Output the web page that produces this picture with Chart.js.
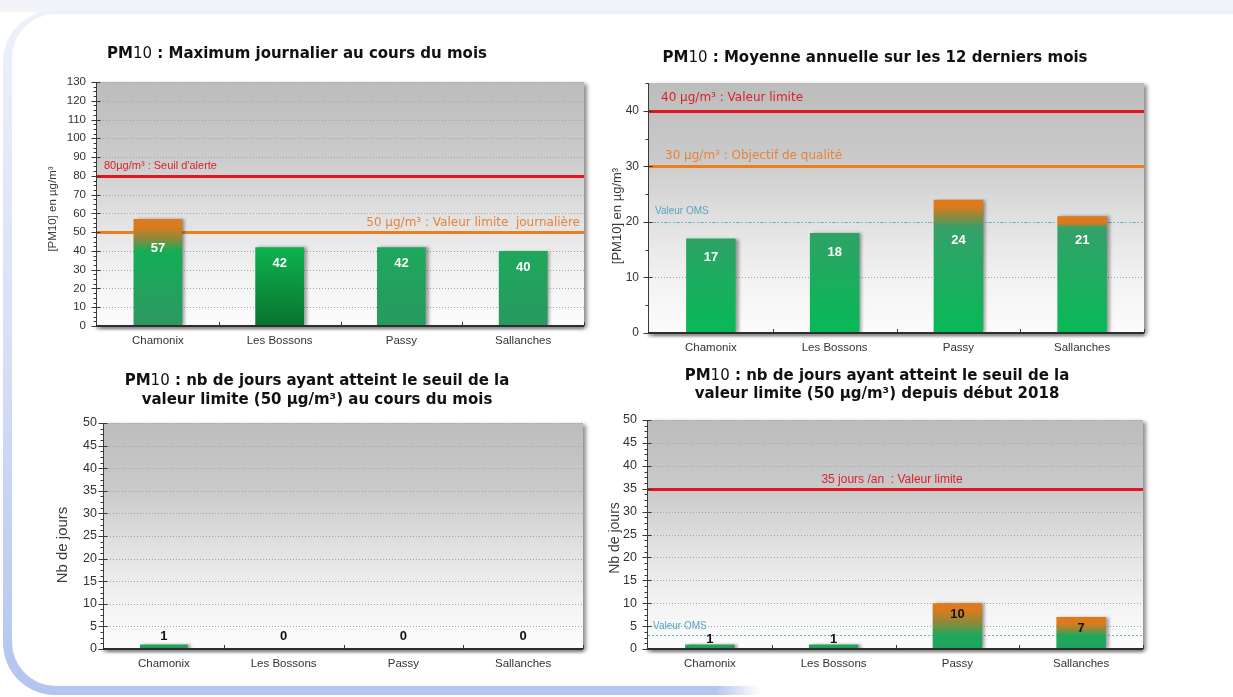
<!DOCTYPE html>
<html lang="fr">
<head>
<meta charset="utf-8">
<title>PM10 – Vallée de l'Arve</title>
<script src="https://cdn.jsdelivr.net/npm/chart.js@4.4.1/dist/chart.umd.min.js"></script>
<style>
  html, body { margin: 0; padding: 0; background: #fff; }
  #page { position: relative; width: 1233px; height: 697px; overflow: hidden; }
  #frame { position: absolute; left: 0; top: 0; }
  .box { position: absolute; }
</style>
</head>
<body>
<div id="page">
  <canvas id="frame" width="1233" height="697"></canvas>
  <div class="box" id="b1"><canvas id="c1"></canvas></div>
  <div class="box" id="b2"><canvas id="c2"></canvas></div>
  <div class="box" id="b3"><canvas id="c3"></canvas></div>
  <div class="box" id="b4"><canvas id="c4"></canvas></div>
</div>
<script>
// ---- Données ----
const stations = ['Chamonix', 'Les Bossons', 'Passy', 'Sallanches'];
const maxJournalier = [57, 42, 42, 40];          // µg/m³
const moyenneAnnuelle = [17, 18, 24, 21];        // µg/m³
const joursDepassementMois = [1, 0, 0, 0];       // jours
const joursDepassementAnnee = [1, 1, 10, 7];     // jours
const seuilAlerte = 80;
const valeurLimiteJournaliere = 50;
const valeurLimiteAnnuelle = 40;
const objectifQualite = 30;
const valeurOMSAnnuelle = 20;
const joursLimiteAnnee = 35;
const joursOMSAnnee = 3;
const axeMax = [130, 45, 50, 50];
const axePasMajeur = [10, 10, 5, 5];
const axePasMineur = [2.5, 5, 1.25, 1.25];

// ---- Styles ----
const SANS = "'Liberation Sans', Arial, sans-serif";
const NARROW = "'Liberation Sans Narrow', 'Liberation Sans', Arial, sans-serif";
const VERD = "'DejaVu Sans', Verdana, sans-serif";
const ORANGE = '#dc7a1d';
const OLIVE = '#8c8a3a';
const RED_LINE = '#e3161e';
const ORANGE_LINE = '#f07d1c';
const OMS_LINE = '#74b6cf';
const RED_TXT = '#d8232b';
const ORANGE_TXT = '#e8823a';
const OMS_TXT = '#58a6c2';

function drawFrame() {
  const g = document.getElementById('frame').getContext('2d');
  g.fillStyle = '#fff';
  g.fillRect(0, 0, 1233, 697);
  g.fillStyle = '#f3f4f9';
  g.fillRect(0, 0, 1233, 12);
  const rr = (x, y, w, h, r) => {
    g.beginPath();
    g.moveTo(x + r, y);
    g.lineTo(x + w, y);
    g.lineTo(x + w, y + h);
    g.lineTo(x + r, y + h);
    g.arcTo(x, y + h, x, y + h - r, r);
    g.lineTo(x, y + r);
    g.arcTo(x, y, x + r, y, r);
    g.closePath();
  };
  const edge = g.createLinearGradient(0, 10, 0, 697);
  edge.addColorStop(0, '#eef1fa');
  edge.addColorStop(0.5, '#d6dff5');
  edge.addColorStop(1, '#b3c4ee');
  rr(3, 10, 1400, 685, 52);
  g.fillStyle = edge;
  g.fill();
  rr(12, 14, 1400, 672, 44);
  g.fillStyle = '#fff';
  g.fill();
  const fade = g.createLinearGradient(715, 0, 760, 0);
  fade.addColorStop(0, 'rgba(255,255,255,0)');
  fade.addColorStop(1, '#fff');
  g.fillStyle = fade;
  g.fillRect(715, 684, 518, 13);
}

function barFill(c, spec) {
  const chart = c.chart;
  const tone = spec.tones[c.dataIndex] || spec.tones[0];
  if (!chart.chartArea || !chart.scales.y) return tone.top;
  const y = chart.scales.y;
  const v = spec.values[c.dataIndex];
  const yTop = y.getPixelForValue(v), yBot = y.getPixelForValue(0);
  if (yBot - yTop < 2) return tone.top;
  const g = chart.ctx.createLinearGradient(0, yTop, 0, yBot);
  const f = val => Math.min(1, Math.max(0, (y.getPixelForValue(val) - yTop) / (yBot - yTop)));
  if (spec.warn !== undefined && v > spec.warn) {
    const hold = v - spec.hold;
    const end = Math.min(spec.fadeEnd, hold);
    g.addColorStop(0, ORANGE);
    g.addColorStop(f(hold), ORANGE);
    g.addColorStop(f((hold + end) / 2), OLIVE);
    g.addColorStop(f(end), tone.top);
    g.addColorStop(1, tone.bottom);
  } else {
    g.addColorStop(0, tone.top);
    g.addColorStop(1, tone.bottom);
  }
  return g;
}

function pmPlugin(spec) {
  const ox = spec.box.x, oy = spec.box.y;
  const line = (ctx, x1, y1, x2, y2) => {
    ctx.beginPath(); ctx.moveTo(x1, y1); ctx.lineTo(x2, y2); ctx.stroke();
  };
  return {
    id: 'pm' + spec.id,
    beforeDraw(chart) {
      const ctx = chart.ctx, a = chart.chartArea;
      ctx.save();
      ctx.shadowColor = 'rgba(0,0,0,0.45)';
      ctx.shadowBlur = 4;
      ctx.shadowOffsetX = 3;
      ctx.shadowOffsetY = 2;
      ctx.fillStyle = '#cfcfcf';
      ctx.fillRect(a.left, a.top, a.width, a.height);
      ctx.restore();
      const bg = ctx.createLinearGradient(0, a.top, 0, a.bottom);
      bg.addColorStop(0, '#bcbcbc');
      bg.addColorStop(0.3, '#cacaca');
      bg.addColorStop(0.55, '#e1e1e1');
      bg.addColorStop(0.8, '#f3f3f3');
      bg.addColorStop(1, '#fcfcfc');
      ctx.fillStyle = bg;
      ctx.fillRect(a.left, a.top, a.width, a.height);

      // titre
      ctx.save();
      ctx.fillStyle = '#111';
      ctx.textBaseline = 'middle';
      ctx.textAlign = 'left';
      spec.title.forEach((segs, i) => {
        let w = 0;
        segs.forEach(s => { ctx.font = s.f; w += ctx.measureText(s.t).width; });
        let x = spec.titleX - ox - w / 2;
        segs.forEach(s => { ctx.font = s.f; ctx.fillText(s.t, x, spec.titleY[i] - oy); x += ctx.measureText(s.t).width; });
      });
      // titre de l'axe vertical
      ctx.translate(spec.yTitle.x - ox, spec.yTitle.y - oy);
      ctx.rotate(-Math.PI / 2);
      ctx.textAlign = 'center';
      ctx.fillStyle = '#3c3c3c';
      ctx.font = spec.yTitle.size + 'px ' + SANS;
      ctx.fillText(spec.yTitle.text, 0, 0);
      ctx.restore();
    },
    beforeDatasetsDraw(chart) {
      const ctx = chart.ctx, a = chart.chartArea, ys = chart.scales.y;
      // quadrillage pointillé
      ctx.save();
      ctx.strokeStyle = '#a2a2a2';
      ctx.lineWidth = 1;
      ctx.setLineDash([1, 2]);
      const nMaj = Math.floor(spec.max / spec.major + 1e-9);
      for (let k = 1; k <= nMaj; k++) {
        const y = Math.round(ys.getPixelForValue(k * spec.major)) + 0.5;
        line(ctx, a.left, y, a.right, y);
      }
      ctx.restore();
      // lignes de référence
      spec.refs.forEach(r => {
        const y = ys.getPixelForValue(r.v);
        ctx.save();
        ctx.strokeStyle = r.color;
        ctx.lineWidth = r.width;
        if (r.dash) ctx.setLineDash(r.dash);
        const yy = r.width % 2 ? Math.round(y) + 0.5 : Math.round(y);
        line(ctx, a.left, yy, a.right, yy);
        ctx.setLineDash([]);
        ctx.fillStyle = r.textColor;
        ctx.font = r.font;
        ctx.textAlign = r.align;
        ctx.textBaseline = 'middle';
        ctx.fillText(r.text, r.x - ox, y + r.dy);
        ctx.restore();
      });
      // ombre des barres
      ctx.save();
      ctx.shadowColor = 'rgba(0,0,0,0.35)';
      ctx.shadowBlur = 3;
      ctx.shadowOffsetX = 3;
      ctx.shadowOffsetY = 0;
    },
    afterDatasetsDraw(chart) {
      const ctx = chart.ctx, a = chart.chartArea, ys = chart.scales.y, xs = chart.scales.x;
      ctx.restore();
      // axe vertical et graduations
      ctx.save();
      ctx.strokeStyle = '#3a3a3a';
      ctx.lineWidth = 1;
      const ax = Math.round(a.left) - 0.5;
      line(ctx, ax, a.top, ax, a.bottom);
      const nMin = Math.floor(spec.max / spec.minor + 1e-9);
      for (let k = 0; k <= nMin; k++) {
        const v = k * spec.minor;
        const y = Math.round(ys.getPixelForValue(v)) + 0.5;
        const major = Math.abs(v / spec.major - Math.round(v / spec.major)) < 1e-6;
        if (major) line(ctx, ax - 5, y, ax + 4, y);
        else line(ctx, ax - 3, y, ax, y);
      }
      // axe horizontal ombré
      ctx.save();
      ctx.shadowColor = 'rgba(0,0,0,0.45)';
      ctx.shadowBlur = 3;
      ctx.shadowOffsetY = 2;
      ctx.lineWidth = 2;
      ctx.strokeStyle = '#2e2e2e';
      line(ctx, a.left - 1, Math.round(a.bottom), a.right, Math.round(a.bottom));
      ctx.restore();
      for (let i = 1; i <= stations.length; i++) {
        const xb = i < stations.length
          ? (xs.getPixelForValue(i - 1) + xs.getPixelForValue(i)) / 2
          : a.right - 0.5;
        const xx = Math.round(xb) + 0.5;
        line(ctx, xx, a.bottom - 4, xx, a.bottom);
      }
      ctx.restore();
      // étiquettes de valeur
      ctx.save();
      ctx.font = 'bold 13px ' + NARROW;
      ctx.textAlign = 'center';
      ctx.textBaseline = 'middle';
      ctx.fillStyle = spec.labelColor;
      const zero = ys.getPixelForValue(0);
      chart.getDatasetMeta(0).data.forEach((el, i) => {
        const v = spec.values[i];
        let cy;
        if (spec.labelMode === 'inside') {
          cy = ys.getPixelForValue(Math.min(v, spec.labelRef)) + spec.labelOff;
        } else {
          cy = Math.min(el.y + spec.labelOff, zero - spec.labelZero);
        }
        ctx.fillText(String(v), el.x, cy);
      });
      ctx.restore();
    }
  };
}

function makeChart(spec) {
  const box = document.getElementById('b' + spec.id);
  box.style.left = spec.box.x + 'px';
  box.style.top = spec.box.y + 'px';
  box.style.width = spec.box.w + 'px';
  box.style.height = spec.box.h + 'px';
  const p = spec.plot;
  const yWidth = p.l - spec.box.x;
  const xHeight = spec.box.y + spec.box.h - p.b;
  return new Chart(document.getElementById('c' + spec.id), {
    type: 'bar',
    data: {
      labels: stations,
      datasets: [{
        data: spec.values,
        backgroundColor: c => barFill(c, spec),
        borderWidth: 0,
        barPercentage: 0.4,
        categoryPercentage: 1
      }]
    },
    options: {
      responsive: true,
      maintainAspectRatio: false,
      devicePixelRatio: 1,
      animation: false,
      events: [],
      layout: { padding: { left: 0, top: p.t - spec.box.y, right: spec.box.x + spec.box.w - p.r, bottom: 0 } },
      plugins: { legend: { display: false }, tooltip: { enabled: false }, title: { display: false } },
      scales: {
        x: {
          grid: { display: false, drawTicks: false },
          border: { display: false },
          ticks: { color: '#333', font: { family: SANS, size: 11.5 }, padding: 8, maxRotation: 0, autoSkip: false },
          afterFit: s => { s.height = xHeight; }
        },
        y: {
          min: 0,
          max: spec.max,
          grid: { display: false, drawTicks: false },
          border: { display: false },
          ticks: {
            stepSize: spec.minor,
            autoSkip: false,
            color: '#333',
            font: { family: SANS, size: spec.tickSize },
            padding: spec.tickPad,
            callback: v => (Math.abs(v / spec.major - Math.round(v / spec.major)) < 1e-6 ? String(v) : '')
          },
          afterFit: s => { s.width = yWidth; }
        }
      }
    },
    plugins: [pmPlugin(spec)]
  });
}

const B15 = 'bold 15px ' + VERD;
const R15 = '15px ' + VERD;
const pm = rest => [{ t: 'PM', f: B15 }, { t: '10', f: R15 }, { t: rest, f: B15 }];

drawFrame();

makeChart({
  id: 1, box: { x: 0, y: 20, w: 600, h: 340 }, plot: { l: 97, t: 82, r: 584, b: 326 },
  values: maxJournalier, max: axeMax[0], major: axePasMajeur[0], minor: axePasMineur[0],
  tickSize: 11.5, tickPad: 11,
  title: [pm(' : Maximum journalier au cours du mois')], titleX: 297, titleY: [54.5],
  yTitle: { text: '[PM10] en µg/m³', x: 53, y: 209, size: 11.5 },
  refs: [
    { v: seuilAlerte, color: RED_LINE, width: 3, text: "80µg/m³ : Seuil d'alerte", x: 104, align: 'left', dy: -9.5, font: '11px ' + SANS, textColor: RED_TXT },
    { v: valeurLimiteJournaliere, color: ORANGE_LINE, width: 3, text: '50 µg/m³ : Valeur limite  journalière', x: 580, align: 'right', dy: -9.5, font: '12px ' + VERD, textColor: ORANGE_TXT }
  ],
  warn: valeurLimiteJournaliere, hold: 4, fadeEnd: 40,
  tones: [
    { top: '#14ad56', bottom: '#309862' },
    { top: '#0db24e', bottom: '#08742f' },
    { top: '#1ea85c', bottom: '#28995f' },
    { top: '#1ea85c', bottom: '#28995f' }
  ],
  labelMode: 'inside', labelRef: valeurLimiteJournaliere, labelOff: 16, labelColor: '#ffffff'
});

makeChart({
  id: 2, box: { x: 600, y: 20, w: 633, h: 340 }, plot: { l: 649, t: 83, r: 1144, b: 333 },
  values: moyenneAnnuelle, max: axeMax[1], major: axePasMajeur[1], minor: axePasMineur[1],
  tickSize: 12, tickPad: 10,
  title: [pm(' : Moyenne annuelle sur les 12 derniers mois')], titleX: 875, titleY: [58.5],
  yTitle: { text: '[PM10] en µg/m³', x: 617, y: 216, size: 13 },
  refs: [
    { v: valeurLimiteAnnuelle, color: RED_LINE, width: 3, text: '40 µg/m³ : Valeur limite', x: 661, align: 'left', dy: -12.5, font: '12px ' + VERD, textColor: RED_TXT },
    { v: objectifQualite, color: ORANGE_LINE, width: 3, text: '30 µg/m³ : Objectif de qualité', x: 665, align: 'left', dy: -10, font: '12px ' + VERD, textColor: ORANGE_TXT },
    { v: valeurOMSAnnuelle, color: OMS_LINE, width: 1, dash: [2, 2], text: 'Valeur OMS', x: 655, align: 'left', dy: -10.5, font: '10px ' + SANS, textColor: OMS_TXT }
  ],
  warn: valeurOMSAnnuelle, hold: 1.2, fadeEnd: 19,
  tones: [
    { top: '#2ea266', bottom: '#06ba55' },
    { top: '#2ea266', bottom: '#06ba55' },
    { top: '#35a06a', bottom: '#06ba55' },
    { top: '#35a06a', bottom: '#06ba55' }
  ],
  labelMode: 'inside', labelRef: valeurOMSAnnuelle, labelOff: 19, labelColor: '#ffffff'
});

makeChart({
  id: 3, box: { x: 0, y: 360, w: 600, h: 337 }, plot: { l: 104, t: 423, r: 583, b: 649 },
  values: joursDepassementMois, max: axeMax[2], major: axePasMajeur[2], minor: axePasMineur[2],
  tickSize: 12.5, tickPad: 7,
  title: [pm(' : nb de jours ayant atteint le seuil de la'), [{ t: 'valeur limite (50 µg/m³) au cours du mois', f: B15 }]],
  titleX: 317, titleY: [381.5, 400],
  yTitle: { text: 'Nb de jours', x: 63, y: 545, size: 15 },
  refs: [],
  tones: [
    { top: '#22a55e', bottom: '#2a985f' }, { top: '#22a55e', bottom: '#2a985f' },
    { top: '#22a55e', bottom: '#2a985f' }, { top: '#22a55e', bottom: '#2a985f' }
  ],
  labelMode: 'top', labelOff: 10, labelZero: 12.5, labelColor: '#111111'
});

makeChart({
  id: 4, box: { x: 600, y: 360, w: 633, h: 337 }, plot: { l: 648, t: 420, r: 1143, b: 649 },
  values: joursDepassementAnnee, max: axeMax[3], major: axePasMajeur[3], minor: axePasMineur[3],
  tickSize: 12.5, tickPad: 11,
  title: [pm(' : nb de jours ayant atteint le seuil de la'), [{ t: 'valeur limite (50 µg/m³) depuis début 2018', f: B15 }]],
  titleX: 877, titleY: [376, 394.5],
  yTitle: { text: 'Nb de jours', x: 615, y: 538, size: 14 },
  refs: [
    { v: joursLimiteAnnee, color: RED_LINE, width: 3, text: '35 jours /an  : Valeur limite', x: 892, align: 'center', dy: -9.5, font: '12px ' + NARROW, textColor: RED_TXT },
    { v: joursOMSAnnee, color: OMS_LINE, width: 1, dash: [2, 2], text: 'Valeur OMS', x: 653, align: 'left', dy: -9, font: '10px ' + SANS, textColor: OMS_TXT }
  ],
  warn: joursOMSAnnee, hold: 1.5, fadeEnd: 3,
  tones: [
    { top: '#22a55e', bottom: '#2a985f' }, { top: '#22a55e', bottom: '#2a985f' },
    { top: '#1fa85c', bottom: '#20a35d' }, { top: '#1fa85c', bottom: '#20a35d' }
  ],
  labelMode: 'top', labelOff: 11, labelZero: 10, labelColor: '#111111'
});
</script>
</body>
</html>
